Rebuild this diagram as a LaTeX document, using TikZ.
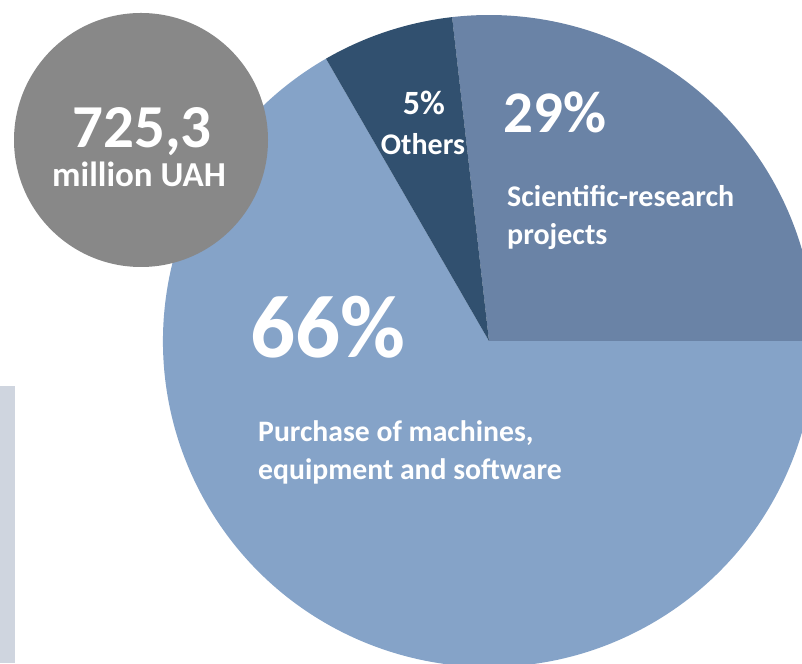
\documentclass[tikz,border=0pt]{standalone}
\usepackage{fontspec}
\setmainfont{Carlito}
\definecolor{bigslice}{HTML}{85A3C8}
\definecolor{resslice}{HTML}{6A83A6}
\definecolor{othslice}{HTML}{31506F}
\definecolor{totgray}{HTML}{888888}
\definecolor{sidebar}{HTML}{CFD5DF}
\tikzset{
  lbl/.style={text=white, font=\bfseries, inner sep=0pt},
  sz/.style={font=\bfseries\fontsize{#1}{#1}\selectfont}
}
\begin{document}
\begin{tikzpicture}[x=1pt,y=1pt]
\useasboundingbox (0,0) rectangle (802,663);
\begin{scope}
\clip (0,0) rectangle (802,663);
\fill[white] (0,0) rectangle (802,663);
\fill[sidebar] (0,0) rectangle (15,277);
\coordinate (C) at (489,322);
\fill[bigslice] (C) -- ++(120:326) arc[start angle=120, end angle=360, radius=326] -- cycle;
\fill[resslice] (C) -- ++(0:326) arc[start angle=0, end angle=96.5, radius=326] -- cycle;
\fill[othslice] (C) -- ++(96.5:326) arc[start angle=96.5, end angle=120, radius=326] -- cycle;
\fill[totgray] (141,523) circle[radius=127];
\end{scope}
\node[lbl, sz=61, anchor=base] (tot) at (142,515) {725,3};
\node[lbl, sz=35, anchor=base] (mil) at (139,476) {million UAH};
\node[lbl, sz=34, anchor=base] (p5) at (424,548) {5\%};
\node[lbl, sz=30, anchor=base] (oth) at (423,508) {Others};
\node[lbl, sz=59, anchor=base west] (p29) at (503,530) {29\%};
\node[lbl, sz=30, anchor=base west] (sr1) at (507,456) {Scientific-research};
\node[lbl, sz=30, anchor=base west] (sr2) at (507,418) {projects};
\node[lbl, sz=89, anchor=base west] (p66) at (250,305) {66\%};
\node[lbl, sz=29.7, anchor=base west] (pu1) at (258,221) {Purchase of machines,};
\node[lbl, sz=29.7, anchor=base west] (pu2) at (258,183) {equipment and software};
\end{tikzpicture}
\end{document}
